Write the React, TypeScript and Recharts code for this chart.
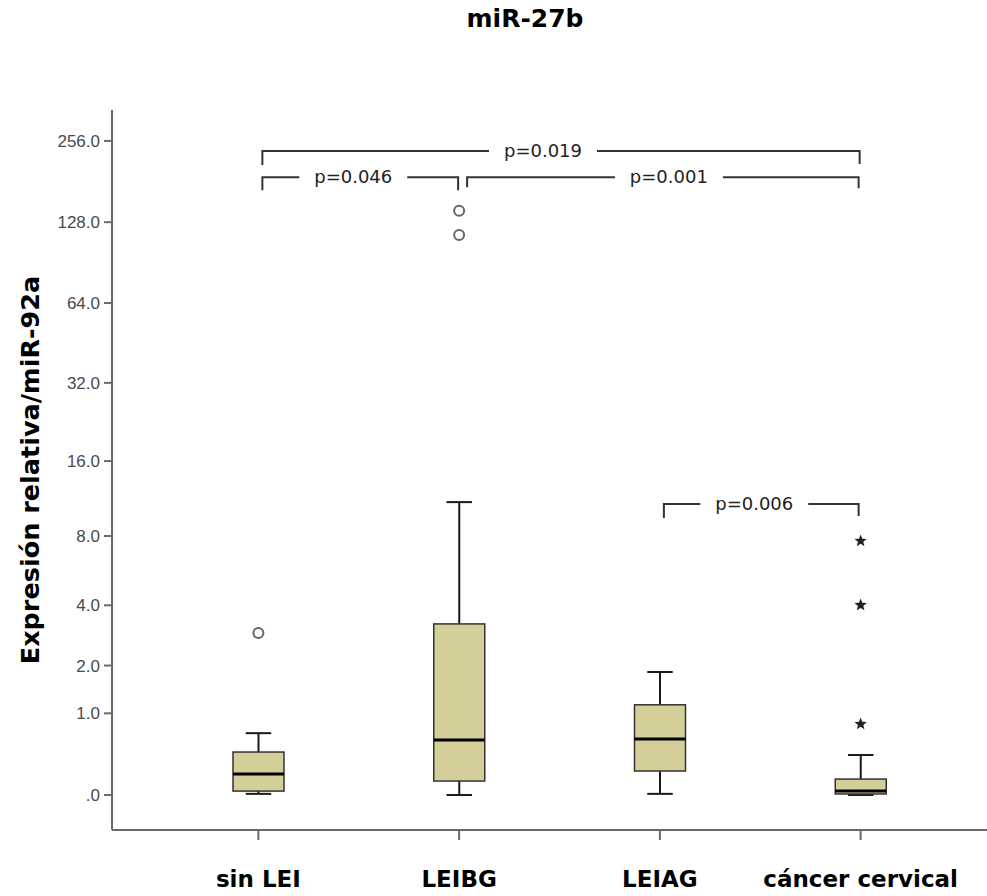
import { ComposedChart, Bar, Line, XAxis, YAxis, ReferenceLine } from 'recharts';

// raw values (relative expression)
const groups = ['sin LEI', 'LEIBG', 'LEIAG', 'cáncer cervical'];
const whiskerLow = [0.01, 0, 0.01, 0];
const q1 = [0.034, 0.126, 0.226, 0.009];
const median = [0.195, 0.595, 0.61, 0.034];
const q3 = [0.44, 3.27, 1.15, 0.145];
const whiskerHigh = [0.69, 11.0, 1.84, 0.404];
const outliers = [[2.95], [141, 114.7], [], []];
const extremes = [[], [], [], [7.63, 4.01, 0.826]];

const yTicks = [0, 1, 2, 4, 8, 16, 32, 64, 128, 256];

const brackets = [
  { from: 'sin LEI', to: 'cáncer cervical', level: 235, label: 'p=0.019' },
  { from: 'sin LEI', to: 'LEIBG', level: 188, label: 'p=0.046' },
  { from: 'LEIBG', to: 'cáncer cervical', level: 188, label: 'p=0.001' },
  { from: 'LEIAG', to: 'cáncer cervical', level: 10.8, label: 'p=0.006' },
];

// drawing tweaks for the brackets (pixels)
const bracketLook: Record<string, { inL: number; inR: number; shift: number; dropL: number; dropR: number }> = {
  'p=0.019': { inL: 4, inR: -1, shift: -18, dropL: 14, dropR: 13 },
  'p=0.046': { inL: 4, inR: -1, shift: -7, dropL: 13, dropR: 13 },
  'p=0.001': { inL: 8, inR: -2, shift: 6, dropL: 10, dropR: 11 },
  'p=0.006': { inL: 4, inR: -2, shift: -7, dropL: 14, dropR: 12 },
};

// axis is log2(x + 1)
const tf = (v: number) => Math.log2(v + 1);

const rows = groups.map((name, i) => ({
  name,
  range: [tf(whiskerLow[i]), tf(whiskerHigh[i])],
  lo: tf(whiskerLow[i]),
  hi: tf(whiskerHigh[i]),
  q1: tf(q1[i]),
  med: tf(median[i]),
  q3: tf(q3[i]),
  o1: outliers[i][0] != null ? tf(outliers[i][0]) : null,
  o2: outliers[i][1] != null ? tf(outliers[i][1]) : null,
  e1: extremes[i][0] != null ? tf(extremes[i][0]) : null,
  e2: extremes[i][1] != null ? tf(extremes[i][1]) : null,
  e3: extremes[i][2] != null ? tf(extremes[i][2]) : null,
}));

const BOLD = '"DejaVu Sans", sans-serif';

function BoxShape(props: any) {
  const { x, y, width, height, payload } = props;
  const top = Math.min(y, y + height);
  const h = Math.abs(height);
  const py = (v: number) => top + (h * (payload.hi - v)) / (payload.hi - payload.lo);
  const cx = x + width / 2;
  const cap = width / 2;
  const yQ1 = py(payload.q1);
  const yQ3 = py(payload.q3);
  const yMed = py(payload.med);
  const yLo = py(payload.lo);
  const yHi = py(payload.hi);
  return (
    <g>
      <line x1={cx} x2={cx} y1={yHi} y2={yQ3} stroke="#1a1a1a" strokeWidth={2} />
      <line x1={cx} x2={cx} y1={yQ1} y2={yLo} stroke="#1a1a1a" strokeWidth={2} />
      <line x1={cx - cap / 2} x2={cx + cap / 2} y1={yHi} y2={yHi} stroke="#1a1a1a" strokeWidth={2} />
      <line x1={cx - cap / 2} x2={cx + cap / 2} y1={yLo} y2={yLo} stroke="#1a1a1a" strokeWidth={2} />
      <rect x={x} y={yQ3} width={width} height={Math.max(yQ1 - yQ3, 1)} fill="#d4cf98" stroke="#333" strokeWidth={1.5} />
      <line x1={x} x2={x + width} y1={yMed} y2={yMed} stroke="#000" strokeWidth={3} />
    </g>
  );
}

function CircleDot(props: any) {
  const { cx, cy, value, index } = props;
  if (value == null || cy == null || isNaN(cy)) return <g key={`c${index}`} />;
  return <circle key={`c${index}`} cx={cx} cy={cy} r={5} fill="#fff" stroke="#666" strokeWidth={2} />;
}

function StarDot(props: any) {
  const { cx, cy, value, index } = props;
  if (value == null || cy == null || isNaN(cy)) return <g key={`s${index}`} />;
  const pts: string[] = [];
  for (let k = 0; k < 10; k++) {
    const r = k % 2 === 0 ? 6.5 : 2.8;
    const a = -Math.PI / 2 + (k * Math.PI) / 5;
    pts.push(`${cx + r * Math.cos(a)},${cy + r * Math.sin(a)}`);
  }
  return <polygon key={`s${index}`} points={pts.join(' ')} fill="#222" />;
}

function Bracket(props: any) {
  const { x1, y1, x2, label } = props;
  const look = bracketLook[label];
  const a = Math.min(x1, x2) + look.inL;
  const b = Math.max(x1, x2) + look.inR;
  const mid = (a + b) / 2 + look.shift;
  const gap = 54;
  const st = { stroke: '#333', strokeWidth: 2, fill: 'none' };
  return (
    <g>
      <polyline points={`${a},${y1 + look.dropL} ${a},${y1} ${mid - gap},${y1}`} {...st} />
      <polyline points={`${mid + gap},${y1} ${b},${y1} ${b},${y1 + look.dropR}`} {...st} />
      <text x={mid} y={y1} dy="0.35em" textAnchor="middle" fontFamily='"DejaVu Sans", sans-serif' fontSize={18} fill="#222">
        {label}
      </text>
    </g>
  );
}

function CategoryTick(props: any) {
  const { x, y, payload } = props;
  return (
    <text x={x} y={y} dy="0.71em" textAnchor="middle" fontFamily={BOLD} fontWeight="bold" fontSize={23} fill="#000">
      {payload.value}
    </text>
  );
}

function YLabel(props: any) {
  const { viewBox } = props;
  const cx = viewBox.x + 39;
  const cy = viewBox.y + viewBox.height / 2;
  return (
    <text x={cx} y={cy} transform={`rotate(-90 ${cx} ${cy})`} textAnchor="middle" fontFamily={BOLD} fontWeight="bold" fontSize={25.5} fill="#000">
      Expresión relativa/miR-92a
    </text>
  );
}

export default function App() {
  return (
    <div style={{ position: 'absolute', left: 0, top: 0, width: 987, height: 896, background: '#fff' }}>
      <div
        style={{
          position: 'absolute',
          left: 425,
          top: 4,
          width: 200,
          textAlign: 'center',
          fontFamily: BOLD,
          fontWeight: 'bold',
          fontSize: 25,
          lineHeight: '30px',
          color: '#000',
        }}
      >
        miR-27b
      </div>
      <ComposedChart width={987} height={896} data={rows} margin={{ top: 110, right: 0, bottom: 0, left: 0 }}>
        <XAxis
          dataKey="name"
          type="category"
          height={66}
          padding={{ left: 46, right: 26 }}
          axisLine={{ stroke: '#6a6a6a', strokeWidth: 2 }}
          tickLine={{ stroke: '#6a6a6a', strokeWidth: 2 }}
          tickSize={10}
          tickMargin={31}
          tick={<CategoryTick />}
          interval={0}
        />
        <YAxis
          type="number"
          width={112}
          domain={[-0.428, 8.384]}
          allowDataOverflow
          ticks={yTicks.map(tf)}
          tickFormatter={(t: number) => {
            const v = Math.round(2 ** t - 1);
            return v === 0 ? '.0' : v.toFixed(1);
          }}
          axisLine={{ stroke: '#6a6a6a', strokeWidth: 2 }}
          tickLine={{ stroke: '#6a6a6a', strokeWidth: 2 }}
          tickSize={8}
          tickMargin={4}
          tick={{ fill: '#4a4a4a', fontSize: 17, fontFamily: '"Liberation Sans", Arial, sans-serif' }}
          label={<YLabel />}
        />
        <Bar dataKey="range" barSize={51} shape={<BoxShape />} isAnimationActive={false} />
        <Line dataKey="o1" stroke="none" dot={CircleDot} activeDot={false} isAnimationActive={false} />
        <Line dataKey="o2" stroke="none" dot={CircleDot} activeDot={false} isAnimationActive={false} />
        <Line dataKey="e1" stroke="none" dot={StarDot} activeDot={false} isAnimationActive={false} />
        <Line dataKey="e2" stroke="none" dot={StarDot} activeDot={false} isAnimationActive={false} />
        <Line dataKey="e3" stroke="none" dot={StarDot} activeDot={false} isAnimationActive={false} />
        {brackets.map((b) => (
          <ReferenceLine
            key={b.label}
            segment={[
              { x: b.from, y: tf(b.level) },
              { x: b.to, y: tf(b.level) },
            ]}
            shape={(p: any) => <Bracket {...p} label={b.label} />}
            ifOverflow="visible"
          />
        ))}
      </ComposedChart>
    </div>
  );
}
